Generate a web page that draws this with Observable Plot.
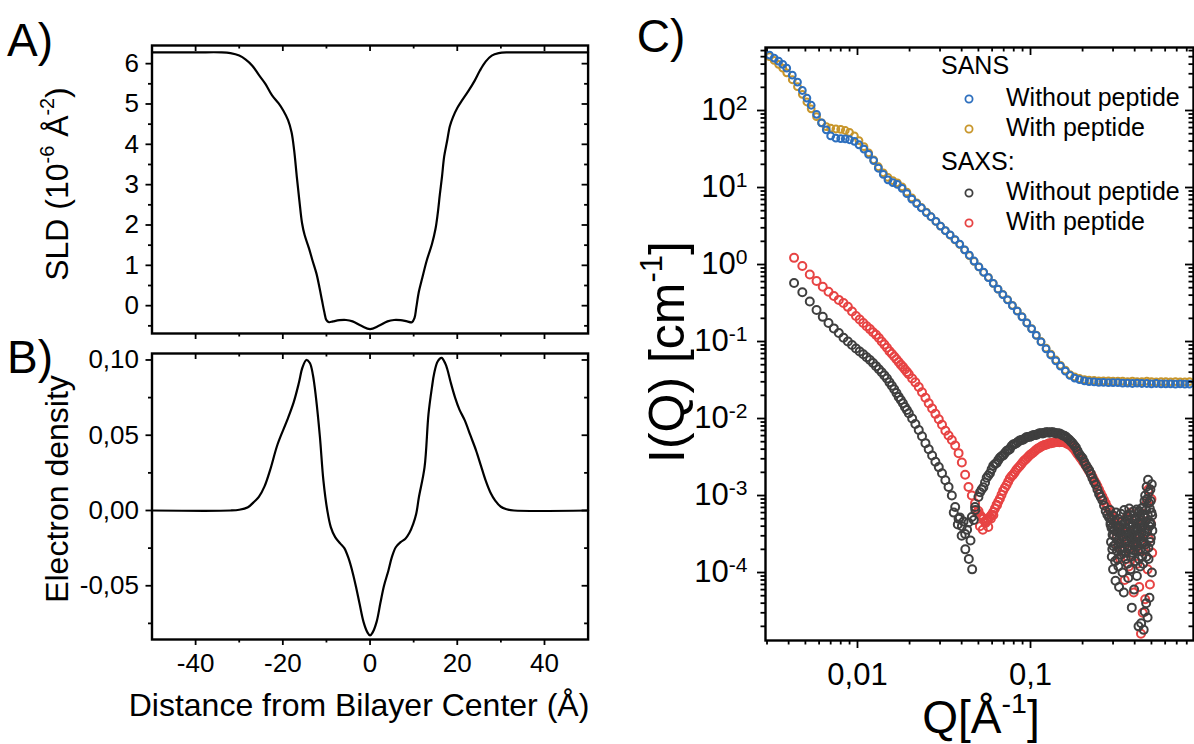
<!DOCTYPE html>
<html><head><meta charset="utf-8">
<script src="https://cdn.jsdelivr.net/npm/d3@7"></script>
<script src="https://cdn.jsdelivr.net/npm/@observablehq/plot@0.6"></script>
<style>
body{margin:0;background:#fff;}
#root{position:relative;width:1194px;height:744px;overflow:hidden;font-family:"Liberation Sans",Arial,sans-serif;color:#000;background:#fff;}
.abs{position:absolute;white-space:nowrap;line-height:1;}
.panel{position:absolute;}
.rot{transform:translate(-50%,-50%) rotate(-90deg);}
.hc{transform:translate(-50%,-50%);}
.lab sup{font-size:0.62em;vertical-align:0.7em;line-height:0;}
.leg{font-size:25px;}
</style></head><body><div id="root"></div><script>
// ---------- Panel A : SLD profile ----------
const sldX = [-50,-40,-34,-32,-30,-28.5,-27,-25.5,-24,-22.5,-21,-19.9,-18.8,-18,-17.4,-16.8,-16.2,-15.6,-15,-14,-13.2,-12.3,-11.6,-11,-10.5,-10,-9.4,-8.5,-7,-5.5,-4,-2,0,2,4,5.5,7,8.5,9.6,10.2,10.6,11.2,12,13,14.2,15,15.5,16,16.5,17,17.7,18.3,19,20,20.8,22.6,24,25.2,26.5,27.9,29.5,31.4,34,50];
const sldY = [6.28,6.28,6.28,6.26,6.2,6.1,5.95,5.72,5.5,5.22,5.02,4.84,4.6,4.3,3.85,3.2,2.6,2.05,1.75,1.42,1.12,0.8,0.45,0.12,-0.15,-0.36,-0.41,-0.39,-0.36,-0.355,-0.39,-0.5,-0.58,-0.5,-0.39,-0.355,-0.36,-0.39,-0.41,-0.3,-0.05,0.35,0.7,1.12,1.53,1.9,2.27,2.75,3.2,3.7,4.1,4.45,4.67,4.9,5.04,5.33,5.58,5.83,6.05,6.2,6.26,6.28,6.28,6.28];
// ---------- Panel B : electron density ----------
const edX = [-50,-32,-30,-28,-26.5,-25.5,-24.2,-22.9,-21.2,-19,-17.5,-16.3,-15.5,-14.6,-13.8,-13.1,-12.4,-11.5,-10.7,-9.8,-9,-8,-6.8,-5.9,-4.9,-4.1,-3.2,-2.4,-1.5,-0.6,0,0.6,1.5,2.4,3.2,4.2,5,5.9,7,8.1,9,9.9,10.6,11.2,12.5,13.4,14.2,14.7,15.5,16.4,17.2,17.7,18.5,19.5,20.5,21.7,23,24.3,25.4,26.5,27.6,28.7,30,31.3,33,50];
const edY = [0,0,0.0005,0.0022,0.006,0.009,0.016,0.027,0.044,0.06,0.072,0.085,0.095,0.1,0.098,0.09,0.075,0.049,0.02,0,-0.011,-0.0177,-0.022,-0.025,-0.032,-0.04,-0.051,-0.062,-0.074,-0.081,-0.083,-0.081,-0.074,-0.061,-0.05,-0.04,-0.031,-0.0244,-0.021,-0.0188,-0.015,-0.0089,-0.002,0.0088,0.0288,0.064,0.082,0.091,0.099,0.1014,0.098,0.094,0.085,0.075,0.067,0.06,0.05,0.04,0.03,0.02,0.012,0.0066,0.0025,0.0008,0,0];
const distTicks = [-40,-20,0,20,40];
const distMinor = [-30,-10,10,30];
const sldTicks = [0,1,2,3,4,5,6];
const sldMinor = [-0.5,0.5,1.5,2.5,3.5,4.5,5.5];
const edTicks = [-0.05,0,0.05,0.1];
const edTickLabels = ["-0,05","0,00","0,05","0,10"];
const edMinor = [-0.075,-0.025,0.025,0.075];
// ---------- Panel C : SANS / SAXS ----------
const sansQ = [0.0031,0.0033,0.0035,0.0037,0.0039,0.0042,0.0045,0.0048,0.0051,0.0054,0.0058,0.0062,0.0066,0.0070,0.0075,0.0080,0.0085,0.0090,0.0096,0.0102,0.0109,0.0116,0.0124,0.0132,0.0141,0.0150,0.016,0.017,0.0181,0.0193,0.0206,0.022,0.0234,0.025,0.0266,0.0284,0.0302,0.0322,0.0343,0.0366,0.039,0.0416,0.0443,0.0472,0.0503,0.0536,0.0571,0.0609,0.0649,0.0692,0.0737,0.0786,0.0838,0.0893,0.0952,0.1015,0.108,0.115,0.123,0.131,0.14,0.149,0.159,0.169,0.18,0.192,0.205,0.218,0.233,0.248,0.264,0.282,0.3,0.32,0.341,0.364,0.388,0.413,0.44,0.47,0.5,0.533,0.568,0.605,0.645,0.688,0.733,0.78,0.83];
const sansWithoutI = [525,479,437,398,355,288,234,182,145,117,89.1,69.2,56.2,46.8,43.7,43.2,42.7,41.7,39.8,35.9,31.6,26.9,22.4,17.8,14.8,12.6,11.6,11.0,9.77,8.32,7.08,6.17,5.43,4.73,4.17,3.63,3.16,2.75,2.43,2.11,1.84,1.55,1.32,1.11,0.933,0.794,0.676,0.569,0.479,0.407,0.347,0.292,0.248,0.209,0.174,0.146,0.120,0.0989,0.0804,0.0668,0.0562,0.0479,0.0412,0.0363,0.0335,0.0320,0.0309,0.0302,0.0299,0.0295,0.0295,0.0292,0.0292,0.0292,0.0288,0.0288,0.0285,0.0288,0.0285,0.0285,0.0282,0.0285,0.0282,0.0282,0.0282,0.0279,0.0282,0.0279,0.0279];
const sansWithI = [501,447,398,355,309,251,204,162,129,105,83.2,69.2,61.7,58.9,57.5,56.9,55.0,51.9,46.8,40.7,33.9,28.2,22.9,18.6,15.5,13.5,12.3,11.5,10.2,8.71,7.33,6.31,5.50,4.79,4.17,3.63,3.16,2.75,2.40,2.09,1.82,1.55,1.30,1.10,0.93,0.79,0.68,0.57,0.48,0.41,0.35,0.295,0.25,0.21,0.175,0.147,0.121,0.100,0.082,0.0685,0.0575,0.0490,0.0425,0.0372,0.0347,0.0331,0.0320,0.0316,0.0313,0.0309,0.0309,0.0309,0.0305,0.0305,0.0306,0.0302,0.0305,0.0302,0.0302,0.0306,0.0302,0.0299,0.0302,0.0302,0.0299,0.0302,0.0299,0.0299,0.0302];
const saxsQ = [0.0043,0.0048,0.0053,0.0058,0.0063,0.0068,0.0073,0.0078,0.0083,0.0088,0.0093,0.0098,0.0103,0.0108,0.0113,0.0118,0.0123,0.0128,0.0133,0.0138,0.0143,0.0148,0.0153,0.0158,0.0163,0.0168,0.0173,0.0178,0.0183,0.0188,0.0193,0.0198,0.0207,0.0216,0.0226,0.0236,0.0247,0.0258,0.027,0.0282,0.0295,0.0308,0.0322,0.0336,0.0351,0.0367,0.0384,0.0401,0.0419,0.0438,0.0458,0.0478,0.05,0.0522,0.0546,0.057,0.0596,0.0623,0.0651,0.068,0.0711,0.0743,0.0776,0.0811,0.0848,0.0886,0.0926,0.0967,0.101,0.1056,0.1103,0.1153,0.1205,0.1259,0.1316,0.1375,0.1437,0.1501,0.1569,0.1639,0.1713,0.179,0.187,0.1955,0.2043,0.2135,0.2231,0.2331,0.2436,0.2545,0.266,0.278,0.2905,0.3035];
const saxsWithoutI = [0.575,0.437,0.331,0.257,0.209,0.174,0.148,0.129,0.112,0.100,0.0902,0.0813,0.0741,0.0684,0.0624,0.0575,0.0525,0.0479,0.0437,0.0398,0.0363,0.0331,0.0295,0.0266,0.0240,0.0214,0.0191,0.0174,0.0158,0.0141,0.0129,0.0117,0.0100,0.00851,0.00708,0.00589,0.00479,0.00398,0.00331,0.00275,0.00234,0.00195,0.00158,0.00129,0.00100,0.000708,0.000501,0.000398,0.000316,0.000447,0.000525,0.000708,0.000955,0.00120,0.00148,0.00182,0.00219,0.00257,0.00288,0.00324,0.00355,0.00389,0.00437,0.00468,0.00501,0.00525,0.00550,0.00575,0.00589,0.00610,0.00631,0.00646,0.00653,0.00661,0.00661,0.00653,0.00646,0.00624,0.00596,0.00550,0.00501,0.00447,0.00380,0.00324,0.00275,0.00229,0.00191,0.00151,0.00120,0.000955,0.000741,0.000562,0.000447,0.000355];
const saxsWithI = [1.22,0.955,0.741,0.610,0.513,0.442,0.389,0.347,0.316,0.282,0.245,0.214,0.193,0.174,0.158,0.145,0.132,0.122,0.111,0.100,0.0912,0.0832,0.0750,0.0692,0.0638,0.0589,0.0543,0.0501,0.0468,0.0432,0.0403,0.0376,0.0331,0.0295,0.0257,0.0219,0.0186,0.0158,0.0135,0.0115,0.00977,0.00832,0.00692,0.00603,0.00525,0.00447,0.00355,0.00269,0.00186,0.00129,0.00100,0.000794,0.000631,0.000525,0.000457,0.000490,0.000562,0.000676,0.000832,0.00102,0.00126,0.00151,0.00178,0.00200,0.00229,0.00257,0.00288,0.00316,0.00347,0.00376,0.00407,0.00432,0.00452,0.00468,0.00479,0.00490,0.00495,0.00495,0.00490,0.00468,0.00442,0.00398,0.00347,0.00302,0.00263,0.00224,0.00191,0.00158,0.00132,0.00107,0.000871,0.000708,0.000603,0.000525];
const saxsBandQ = [0.0511,0.0534,0.0558,0.0583,0.0609,0.0637,0.0665,0.0695,0.0727,0.0759,0.0793,0.0829,0.0867,0.0906,0.0946,0.0988,0.1033,0.1079,0.1128,0.1179,0.1232,0.1287,0.1345,0.1406,0.1469,0.1535,0.1604,0.1676,0.1751,0.183,0.1912,0.1999,0.2089,0.2183,0.2281,0.2383,0.249,0.2602,0.272,0.2842,0.297];
const saxsWithoutBandI = [0.00110,0.00128,0.00170,0.00195,0.00243,0.00265,0.00310,0.00332,0.00378,0.00400,0.00460,0.00478,0.00520,0.00530,0.00570,0.00578,0.00605,0.00612,0.00645,0.00640,0.00665,0.00655,0.00665,0.00640,0.00640,0.00602,0.00580,0.00530,0.00478,0.00420,0.00345,0.00305,0.00248,0.00212,0.00168,0.00138,0.00105,0.00087,0.00063,0.00052,0.00039];
const saxsWithBandI = [0.000560,0.000500,0.000470,0.000530,0.000610,0.000760,0.000910,0.00115,0.00137,0.00166,0.00187,0.00216,0.00242,0.00274,0.00300,0.00333,0.00360,0.00393,0.00418,0.00444,0.00458,0.00476,0.00485,0.00495,0.00492,0.00494,0.00480,0.00456,0.00420,0.00372,0.00325,0.00282,0.00244,0.00207,0.00175,0.00145,0.00119,0.00097,0.00079,0.00066,0.00056];
const saxsWithoutDipQ = [0.036,0.038,0.039,0.040,0.041,0.042,0.043,0.044,0.045,0.046,0.047,0.048];
const saxsWithoutDipI = [6.0e-4,4.2e-4,5.2e-4,3.0e-4,4.6e-4,2.0e-4,3.6e-4,1.5e-4,2.6e-4,1.1e-4,4.8e-4,6.5e-4];
const saxsWithDipQ = [0.049,0.051,0.053,0.055,0.057,0.059,0.061,0.064];
const saxsWithDipI = [6.0e-4,4.0e-4,3.6e-4,4.4e-4,3.9e-4,5.0e-4,5.6e-4,7.5e-4];
const saxsWithoutTailQ = [0.29,0.292,0.295,0.298,0.30,0.302,0.305,0.308,0.31,0.313,0.316,0.319,0.322,0.325,0.328,0.331,0.334,0.337,0.34,0.343,0.346,0.349,0.352,0.355,0.358,0.361,0.364,0.367,0.37,0.373,0.376,0.379,0.382,0.385,0.388,0.391,0.394,0.397,0.40,0.403,0.406,0.409,0.412,0.415,0.418,0.421,0.424,0.427,0.43,0.433,0.436,0.439,0.442,0.445,0.448,0.451,0.454,0.457,0.46,0.463,0.466,0.469,0.472,0.475,0.478,0.481,0.484,0.487,0.49,0.493,0.496,0.5,0.503,0.506];
const saxsWithoutTailI = [4.2e-4,2.5e-4,1.6e-4,3.1e-4,1.1e-4,2.2e-4,3.6e-4,1.4e-4,7.8e-5,2.8e-4,1.9e-4,4.0e-4,1.2e-4,6.5e-5,2.4e-4,3.3e-4,1.7e-4,4.6e-4,1.0e-4,2.9e-4,5.5e-5,2.1e-4,3.8e-4,1.5e-4,2.6e-4,4.9e-4,1.3e-4,8.5e-5,3.2e-4,2.0e-4,5.6e-4,1.1e-4,2.7e-4,3.5e-5,1.8e-4,4.3e-4,2.3e-4,6.0e-5,3.0e-4,1.4e-4,5.0e-4,2.5e-4,9.0e-5,3.7e-4,1.9e-4,2.0e-5,6.3e-4,2.9e-4,1.2e-4,4.4e-4,2.2e-5,3.3e-4,1.6e-4,7.0e-4,2.4e-4,1.8e-5,5.2e-4,3.1e-5,1.0e-3,2.0e-4,4.0e-5,1.3e-3,3.4e-4,2.6e-5,1.6e-3,1.5e-4,8.0e-4,4.7e-5,4.5e-4,1.2e-3,2.8e-4,6.0e-4,1.0e-4,3.5e-4];
const saxsWithoutCoreQ = [0.288,0.291,0.294,0.297,0.300,0.303,0.306,0.309,0.312,0.315,0.318,0.321,0.324,0.327,0.330,0.333,0.336,0.339,0.342,0.345,0.348,0.351,0.354,0.357,0.360,0.363,0.366,0.369,0.372,0.375,0.378,0.381,0.384,0.387,0.390,0.393,0.396,0.399,0.402,0.405,0.408,0.411,0.414,0.417,0.420,0.423,0.426,0.429,0.432,0.435,0.438,0.441,0.444,0.447,0.450,0.453,0.456,0.459,0.462,0.465,0.468,0.471,0.474,0.477,0.480,0.483,0.486,0.489,0.492,0.495,0.498,0.502,0.505];
const saxsWithoutCoreI = [6.5e-4,5.0e-4,3.8e-4,2.0e-4,5.5e-4,3.0e-4,4.5e-4,2.3e-4,6.0e-4,3.4e-4,1.5e-4,5.0e-4,2.7e-4,4.0e-4,2.0e-4,5.8e-4,3.0e-4,1.9e-4,4.2e-4,3.5e-4,6.5e-4,2.5e-4,4.6e-4,1.8e-4,3.4e-4,5.5e-4,2.2e-4,4.2e-4,6.8e-4,2.9e-4,3.9e-4,1.6e-4,5.0e-4,3.2e-4,2.4e-4,6.2e-4,3.7e-4,1.9e-4,4.8e-4,2.8e-4,3.6e-4,6.6e-4,2.2e-4,4.4e-4,3.0e-4,1.5e-4,5.4e-4,3.8e-4,2.0e-4,4.8e-4,6.8e-4,2.6e-4,3.9e-4,1.3e-4,5.6e-4,3.1e-4,8.5e-4,2.3e-4,4.6e-4,6.5e-4,1.6e-4,9.0e-4,3.6e-4,5.5e-4,2.1e-4,1.1e-3,4.0e-4,6.8e-4,2.5e-4,8.5e-4,4.2e-4,1.4e-3,5.5e-4];
const saxsWithTailQ = [0.31,0.315,0.32,0.325,0.33,0.335,0.34,0.345,0.35,0.355,0.36,0.365,0.37,0.375,0.38,0.385,0.39,0.395,0.40,0.405,0.41,0.415,0.42,0.425,0.43,0.435,0.44,0.445,0.45,0.455,0.46,0.465,0.47,0.475,0.48,0.485,0.49,0.495,0.5,0.505];
const saxsWithTailI = [4.2e-4,3.0e-4,2.2e-4,3.8e-4,1.5e-4,2.6e-4,4.5e-4,1.9e-4,8.0e-5,3.2e-4,5.2e-4,2.4e-4,1.2e-4,4.0e-4,6.0e-4,1.7e-4,2.9e-4,5.5e-5,3.5e-4,2.1e-4,4.8e-4,1.3e-4,3.0e-4,6.5e-5,2.5e-4,1.6e-5,4.2e-4,3.0e-5,1.9e-4,5.8e-4,4.5e-5,3.3e-4,8.0e-4,1.1e-4,1.2e-3,2.7e-4,7.0e-5,4.4e-4,9.0e-4,1.8e-4];
const qTicks = [0.01,0.1];
const qTickLabels = ["0,01","0,1"];
const iTicks = [1e-4,1e-3,1e-2,1e-1,1,10,100];
const iTickLabels = ["10^-4","10^-3","10^-2","10^-1","10^0","10^1","10^2"];
const legendLabels = ["SANS","Without peptide","With peptide","SAXS:","Without peptide","With peptide"];
const colBlue="#2d6fbe", colGold="#c8962b", colDark="#3f3f3f", colRed="#e74343";

const FONT='"Liberation Sans", Arial, sans-serif';
const root=document.getElementById("root");
function place(el,left,top){const d=document.createElement("div");d.className="panel";d.style.left=left+"px";d.style.top=top+"px";d.appendChild(el);root.appendChild(d);}
function boxTicks(W,H,m,xMaj,xMin,yMaj,yMin,L,l,sw){
  const iw=W-m.left-m.right, ih=H-m.top-m.bottom;
  const o={stroke:"black",strokeWidth:sw};
  return [
    Plot.tickX(xMaj,{x:d=>d,insetTop:ih,insetBottom:-L,...o}),
    Plot.tickX(xMin,{x:d=>d,insetTop:ih,insetBottom:-l,...o}),
    Plot.tickX(xMaj,{x:d=>d,insetTop:0,insetBottom:ih-L,...o}),
    Plot.tickX(xMin,{x:d=>d,insetTop:0,insetBottom:ih-l,...o}),
    Plot.tickY(yMaj,{y:d=>d,insetLeft:-L,insetRight:iw,...o}),
    Plot.tickY(yMin,{y:d=>d,insetLeft:-l,insetRight:iw,...o}),
    Plot.tickY(yMaj,{y:d=>d,insetLeft:iw-L,insetRight:0,...o}),
    Plot.tickY(yMin,{y:d=>d,insetLeft:iw-l,insetRight:0,...o})
  ];
}
// Panel A
{
  const W=600,H=340,m={left:151.5,right:12.4,top:45,bottom:7};
  const data=sldX.map((x,i)=>({x,y:sldY[i]}));
  const p=Plot.plot({width:W,height:H,marginLeft:m.left,marginRight:m.right,marginTop:m.top,marginBottom:m.bottom,
    x:{domain:[-50,50],axis:null},y:{domain:[-0.69,6.45]},
    style:{fontFamily:FONT,fontSize:"26px",color:"black",background:"transparent",overflow:"visible"},
    marks:[
      Plot.line(data,{x:"x",y:"y",curve:"catmull-rom",stroke:"black",strokeWidth:2.2}),
      ...boxTicks(W,H,m,distTicks,distMinor,sldTicks,sldMinor,6,3.5,1.8),
      Plot.axisY({ticks:sldTicks,tickSize:0,tickPadding:13,tickFormat:d=>String(d),label:null}),
      Plot.frame({stroke:"black",strokeWidth:2.4})
    ]});
  place(p,0,0);
}
// Panel B
{
  const W=600,H=404,m={left:151.5,right:12.4,top:13,bottom:105};
  const data=edX.map((x,i)=>({x,y:edY[i]}));
  const p=Plot.plot({width:W,height:H,marginLeft:m.left,marginRight:m.right,marginTop:m.top,marginBottom:m.bottom,
    x:{domain:[-50,50]},y:{domain:[-0.0857,0.1043]},
    style:{fontFamily:FONT,fontSize:"26px",color:"black",background:"transparent",overflow:"visible"},
    marks:[
      Plot.line(data,{x:"x",y:"y",curve:"catmull-rom",stroke:"black",strokeWidth:2.2}),
      ...boxTicks(W,H,m,distTicks,distMinor,edTicks,edMinor,6,3.5,1.8),
      Plot.axisY({ticks:edTicks,tickSize:0,tickPadding:13,tickFormat:d=>edTickLabels[edTicks.indexOf(d)],label:null}),
      Plot.axisX({ticks:distTicks,tickSize:0,tickPadding:14,tickFormat:d=>String(d),label:null}),
      Plot.frame({stroke:"black",strokeWidth:2.4})
    ]});
  place(p,0,340);
}
// Panel C
{
  const W=554,H=700,m={left:125,right:1,top:47,bottom:60};
  const iMinor=[];for(let e=-5;e<=2;e++)for(let k=2;k<=9;k++){const v=k*Math.pow(10,e);if(v>=1.31e-5&&v<=658)iMinor.push(v);}
  const qMinor=[];for(let e=-3;e<=-1;e++)for(let k=2;k<=9;k++){const v=k*Math.pow(10,e);if(v>=0.00294&&v<=0.875)qMinor.push(v);}
  const tab=(Q,I)=>Q.map((q,i)=>({q,I:I[i]}));
  const dotOpt=(c,r,sw)=>({x:"q",y:"I",r,stroke:c,fill:"none",strokeWidth:sw});
  const p=Plot.plot({width:W,height:H,marginLeft:m.left,marginRight:m.right,marginTop:m.top,marginBottom:m.bottom,
    x:{type:"log",domain:[0.00294,0.875]},y:{type:"log",domain:[1.31e-5,658]},
    style:{fontFamily:FONT,fontSize:"31px",color:"black",background:"transparent",overflow:"visible"},
    marks:[
      Plot.dot(tab(sansQ,sansWithI),dotOpt(colGold,3.4,2)),
      Plot.dot(tab(sansQ,sansWithoutI),dotOpt(colBlue,3.4,2)),
      Plot.dot(tab(saxsQ,saxsWithI),dotOpt(colRed,4,2)),
      Plot.dot(tab(saxsBandQ,saxsWithBandI),dotOpt(colRed,4,2)),
      Plot.dot(tab(saxsWithDipQ,saxsWithDipI),dotOpt(colRed,4,2)),
      Plot.dot(tab(saxsWithTailQ,saxsWithTailI),dotOpt(colRed,4,2)),
      Plot.dot(tab(saxsQ,saxsWithoutI),dotOpt(colDark,4,2)),
      Plot.dot(tab(saxsBandQ,saxsWithoutBandI),dotOpt(colDark,4,2)),
      Plot.dot(tab(saxsWithoutDipQ,saxsWithoutDipI),dotOpt(colDark,4,2)),
      Plot.dot(tab(saxsWithoutTailQ,saxsWithoutTailI),dotOpt(colDark,4,2)),
      Plot.dot(tab(saxsWithoutCoreQ,saxsWithoutCoreI),dotOpt(colDark,4,2)),
      ...boxTicks(W,H,m,qTicks,qMinor,iTicks,iMinor,8,4.5,1.8),
      Plot.axisY({ticks:iTicks,tickSize:0,tickPadding:18,tickFormat:d=>iTickLabels[iTicks.indexOf(d)],label:null}),
      Plot.axisX({ticks:qTicks,tickSize:0,tickPadding:22,tickFormat:d=>qTickLabels[qTicks.indexOf(d)],label:null}),
      Plot.frame({stroke:"black",strokeWidth:2.4})
    ]});
  const NS="http://www.w3.org/2000/svg";
  p.querySelectorAll('g[aria-label="y-axis tick label"] text').forEach(t=>{
    const parts=t.textContent.split("^");
    if(parts.length===2){t.textContent=parts[0];const s=document.createElementNS(NS,"tspan");s.setAttribute("dy","-0.5em");s.setAttribute("font-size","0.68em");s.textContent=parts[1];t.appendChild(s);}
  });
  place(p,640,0);
}
// Titles
function addText(html,cls,left,top,size){const d=document.createElement("div");d.className="abs lab "+cls;d.style.left=left+"px";d.style.top=top+"px";d.style.fontSize=size+"px";d.innerHTML=html;root.appendChild(d);}
addText("A)","hc",30,40,46);
addText("B)","hc",30,357,46);
addText("C)","hc",661,36,46);
addText("SLD (10<sup>-6</sup> Å<sup>-2</sup>)","rot",57,184,32);
addText("Electron density","rot",57,489,32);
addText("Distance from Bilayer Center (Å)","hc",359,705,32);
addText("I(Q) [cm<sup>-1</sup>]","rot",667,352,50);
addText("Q[Å<sup>-1</sup>]","hc",981,717,46);
// Legend
const legendColors=[null,colBlue,colGold,null,colDark,colRed];
const legendY=[66,98,128,162,192,222];
legendLabels.forEach((t,i)=>{
  const c=legendColors[i];
  const d=document.createElement("div");d.className="abs leg";
  d.style.top=(legendY[i]-13)+"px";
  if(!c){d.style.left="941px";d.textContent=t;}
  else{
    d.style.left="963px";
    d.innerHTML='<svg width="12" height="12" style="vertical-align:middle;margin-right:31px"><circle cx="6" cy="6" r="3.6" fill="none" stroke="'+c+'" stroke-width="1.8"/></svg>'+t;
  }
  root.appendChild(d);
});
</script></body></html>
